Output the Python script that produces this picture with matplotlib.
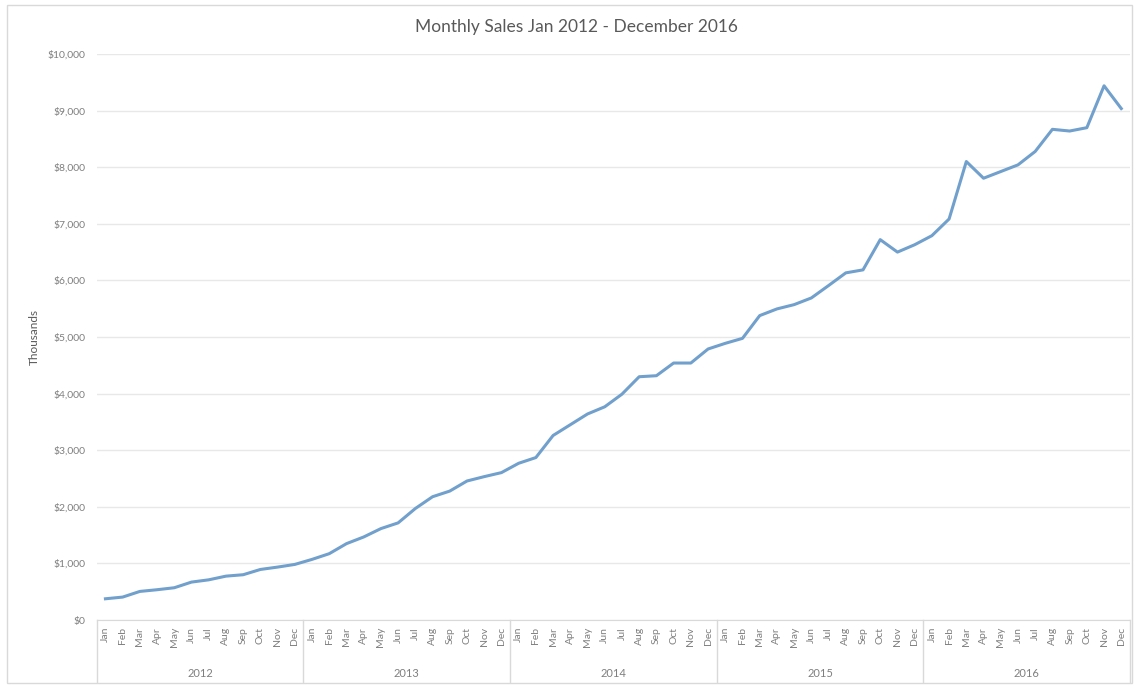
import matplotlib.pyplot as plt
import matplotlib.patches as patches

# monthly sales, thousands of dollars, Jan 2012 .. Dec 2016
years = ["2012", "2013", "2014", "2015", "2016"]
months = ["Jan", "Feb", "Mar", "Apr", "May", "Jun",
          "Jul", "Aug", "Sep", "Oct", "Nov", "Dec"]

sales_2012 = [375, 405, 505, 535, 570, 670, 710, 775, 800, 893, 935, 982]
sales_2013 = [1071, 1172, 1349, 1467, 1615, 1716, 1970, 2178, 2278, 2456, 2533, 2604]
sales_2014 = [2769, 2870, 3260, 3450, 3640, 3767, 3990, 4298, 4316, 4540, 4540, 4788]
sales_2015 = [4888, 4976, 5378, 5496, 5572, 5690, 5909, 6133, 6186, 6720, 6500, 6630]
sales_2016 = [6790, 7085, 8100, 7805, 7923, 8041, 8278, 8669, 8639, 8698, 9438, 9036]

y_ticks = [0, 1000, 2000, 3000, 4000, 5000, 6000, 7000, 8000, 9000, 10000]

sales = sales_2012 + sales_2013 + sales_2014 + sales_2015 + sales_2016
x = list(range(len(sales)))

plt.rcParams['font.family'] = ['Lato', 'DejaVu Sans']
grey = '#7f7f7f'

fig = plt.figure(figsize=(11.39, 6.86), dpi=100)
ax = fig.add_axes([0.085, 0.0962, 0.907, 0.8251])

# light frame round the whole chart
fig.patches.append(patches.Rectangle((0.006, 0.004), 0.988, 0.989, transform=fig.transFigure,
                                     fill=False, edgecolor='#d9d9d9', linewidth=1))

ax.plot(x, sales, color='#71a0cc', linewidth=2.2, solid_joinstyle='round')

ax.set_xlim(-0.5, len(sales) - 0.5)
ax.set_ylim(0, 10000)
ax.set_yticks(y_ticks)
ax.set_yticklabels(['${:,}'.format(v) for v in y_ticks], fontsize=7.5, color=grey)
ax.grid(axis='y', color='#e8e8e8', linewidth=1)
ax.set_axisbelow(True)

ax.set_xticks(x)
ax.set_xticklabels(months * len(years), rotation=90, fontsize=7.5, color=grey, va='top')
ax.tick_params(axis='both', length=0)
ax.tick_params(axis='x', pad=5)
ax.tick_params(axis='y', pad=8)

for side in ['top', 'right', 'left']:
    ax.spines[side].set_visible(False)
ax.spines['bottom'].set_color('#d9d9d9')

# year group boxes under the month labels
trans = ax.get_xaxis_transform()
for i in range(len(years) + 1):
    ax.plot([i * 12 - 0.5, i * 12 - 0.5], [0, -0.11], transform=trans, color='#d9d9d9',
            linewidth=1, clip_on=False)
for i, yr in enumerate(years):
    ax.text(i * 12 + 5.5, -0.094, yr, transform=trans, ha='center', va='center',
            fontsize=8, color=grey)

ax.set_ylabel('Thousands', fontsize=8.5, color='#595959', labelpad=6)
fig.text(0.506, 0.96, 'Monthly Sales Jan 2012 - December 2016', ha='center', va='center',
         fontsize=12.5, color='#595959')

plt.savefig('out.png')
